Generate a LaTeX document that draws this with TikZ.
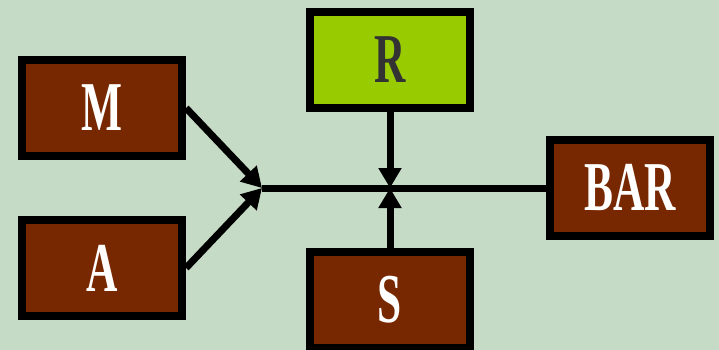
\documentclass[tikz,border=0pt]{standalone}
\usepackage{fontspec}
\setmainfont{Liberation Serif}
\usepackage{graphicx}
\usepackage{xcolor}
\usetikzlibrary{arrows.meta}
\usetikzlibrary{positioning}

\definecolor{bgGreen}{HTML}{C6DBC6}
\definecolor{boxBrown}{HTML}{782800}
\definecolor{boxLime}{HTML}{99CC00}
\definecolor{darkText}{HTML}{333333}

\newcommand{\boxlabel}[1]{\raisebox{-6pt}{\scalebox{0.62}[1]{#1}}}

\begin{document}
\begin{tikzpicture}[x=1pt, y=-1pt,
    box/.style={draw=black, line width=8pt, minimum width=160pt,
      minimum height=96pt, inner sep=0pt, text=white,
      font=\fontsize{70}{70}\selectfont\bfseries},
    flow/.style={line width=7pt, -{Triangle[length=20pt,width=22pt]}}]

    \fill [bgGreen] (0, 0) rectangle (719, 350);
    \useasboundingbox (0, 0) rectangle (719, 350);

    \node [box, fill=boxBrown] (M) at (102, 108) {\boxlabel{M}};
    \node [box, fill=boxBrown] (A) at (102, 268) {\boxlabel{A}};
    \node [box, fill=boxLime, text=darkText] (R) at (390, 60) {\boxlabel{R}};
    \node [box, fill=boxBrown] (S) at (390, 300) {\boxlabel{S}};
    \node [box, fill=boxBrown] (BAR) at (630, 187.5) {\boxlabel{BAR}};

    \coordinate (join) at (262, 188);
    \coordinate (cross) at (390, 188);

    \draw [line width=7pt] (join) -- (BAR.west |- join);
    \draw [flow] (M.east) -- (join);
    \draw [flow] (A.east) -- (join);
    \draw [flow] (R) -- (cross);
    \draw [flow] (S) -- (cross);

\end{tikzpicture}
\end{document}
